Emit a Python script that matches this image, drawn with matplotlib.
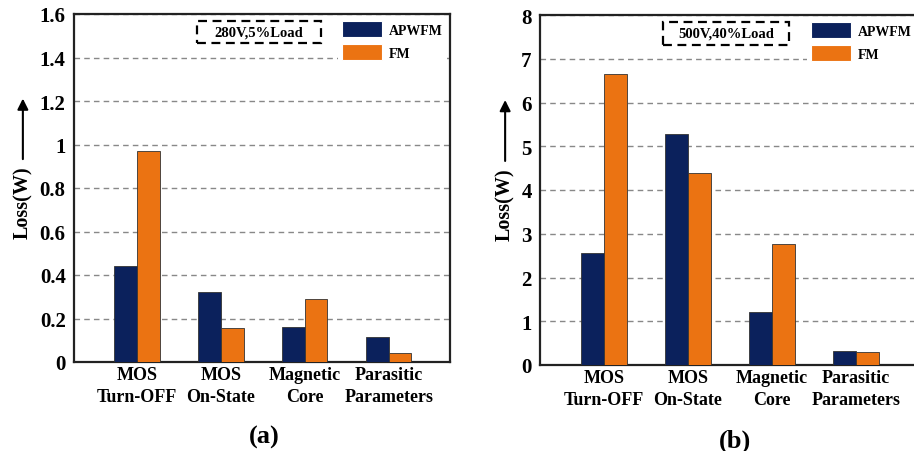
import matplotlib
matplotlib.use("Agg")
import matplotlib.pyplot as plt
import numpy as np
from matplotlib.patches import Rectangle

plt.rcParams['font.family'] = ['Liberation Serif', 'DejaVu Serif']
plt.rcParams['font.weight'] = 'bold'

categories = ["MOS\nTurn-OFF", "MOS\nOn-State", "Magnetic\nCore", "Parasitic\nParameters"]
series_names = ["APWFM", "FM"]
a_apwfm = [0.44, 0.32, 0.16, 0.113]
a_fm = [0.97, 0.157, 0.29, 0.042]
b_apwfm = [2.56, 5.27, 1.21, 0.32]
b_fm = [6.66, 4.39, 2.77, 0.29]
a_ticks = [0, 0.2, 0.4, 0.6, 0.8, 1, 1.2, 1.4, 1.6]
a_ticklabels = ["0", "0.2", "0.4", "0.6", "0.8", "1", "1.2", "1.4", "1.6"]
b_ticks = [0, 1, 2, 3, 4, 5, 6, 7, 8]
b_ticklabels = ["0", "1", "2", "3", "4", "5", "6", "7", "8"]
a_note = "280V,5%Load"
b_note = "500V,40%Load"
panel_labels = ["(a)", "(b)"]

c_ap = "#0b215c"
c_fm = "#eb7312"

fig = plt.figure(figsize=(9.14, 4.52), dpi=100)
ax1 = fig.add_axes([74/914, 89/452, 376/914, 348/452])
ax2 = fig.add_axes([540/914, 86/452, 379/914, 350/452])

def draw(ax, ap, fm, ticks, ticklabels, ymax, note, plabel, xlim, box, ylab_x, plab_x):
    x = np.arange(len(categories))
    w = 0.27
    ax.set_axisbelow(True)
    ax.bar(x - w/2, ap, w, color=c_ap, edgecolor="#333333", linewidth=0.6, label=series_names[0], zorder=3)
    ax.bar(x + w/2, fm, w, color=c_fm, edgecolor="#333333", linewidth=0.6, label=series_names[1], zorder=3)
    ax.set_xlim(*xlim)
    ax.set_ylim(0, ymax)
    ax.set_yticks(ticks)
    ax.set_yticklabels(ticklabels, fontsize=15, fontweight='bold')
    ax.set_xticks(x)
    ax.set_xticklabels(categories, fontsize=13, fontweight='bold', linespacing=1.4)
    ax.tick_params(axis='both', length=0)
    ax.tick_params(axis='y', pad=6)
    ax.tick_params(axis='x', pad=3)
    ax.yaxis.grid(True, linestyle=(0, (4, 3)), color="#888888", linewidth=1.0)
    for s in ax.spines.values():
        s.set_linewidth(1.6)
        s.set_color("#222222")
    leg = ax.legend(loc='upper right', bbox_to_anchor=(1.0, 1.0), frameon=True,
                    prop={'size': 10, 'weight': 'bold'}, handlelength=2.9, handleheight=1.45,
                    handletextpad=0.5, labelspacing=0.45, borderaxespad=0.2, borderpad=0.3)
    leg.get_frame().set_facecolor('white')
    leg.get_frame().set_edgecolor('none')
    leg.get_frame().set_alpha(1.0)
    for h in leg.legend_handles:
        h.set_edgecolor("white")
        h.set_linewidth(0.8)
    x0, x1, y0, y1 = box
    ax.add_patch(Rectangle((x0, y0), x1 - x0, y1 - y0, transform=ax.transAxes, facecolor='white',
                           edgecolor='black', linestyle=(0, (4, 2.5)), linewidth=1.6, zorder=5))
    ax.text((x0 + x1) / 2, (y0 + y1) / 2, note, transform=ax.transAxes, ha='center', va='center',
            fontsize=10.5, fontweight='bold', zorder=6)
    ax.text(ylab_x, 0.46, "Loss(W)", transform=ax.transAxes, rotation=90, ha='center', va='center',
            fontsize=14.5, fontweight='bold')
    ax.annotate("", xy=(ylab_x, 0.765), xytext=(ylab_x, 0.575), xycoords='axes fraction',
                arrowprops=dict(arrowstyle='-|>', color='black', lw=1.5, mutation_scale=16))
    ax.text(plab_x, -0.215, plabel, transform=ax.transAxes, ha='center', va='center',
            fontsize=19, fontweight='bold')

draw(ax1, a_apwfm, a_fm, a_ticks, a_ticklabels, 1.6, a_note, panel_labels[0], (-0.75, 3.73),
     (0.327, 0.657, 0.917, 0.98), -0.136, 0.507)
draw(ax2, b_apwfm, b_fm, b_ticks, b_ticklabels, 8, b_note, panel_labels[1], (-0.76, 3.75),
     (0.325, 0.657, 0.914, 0.981), -0.092, 0.515)

fig.savefig("out.png", dpi=100)
